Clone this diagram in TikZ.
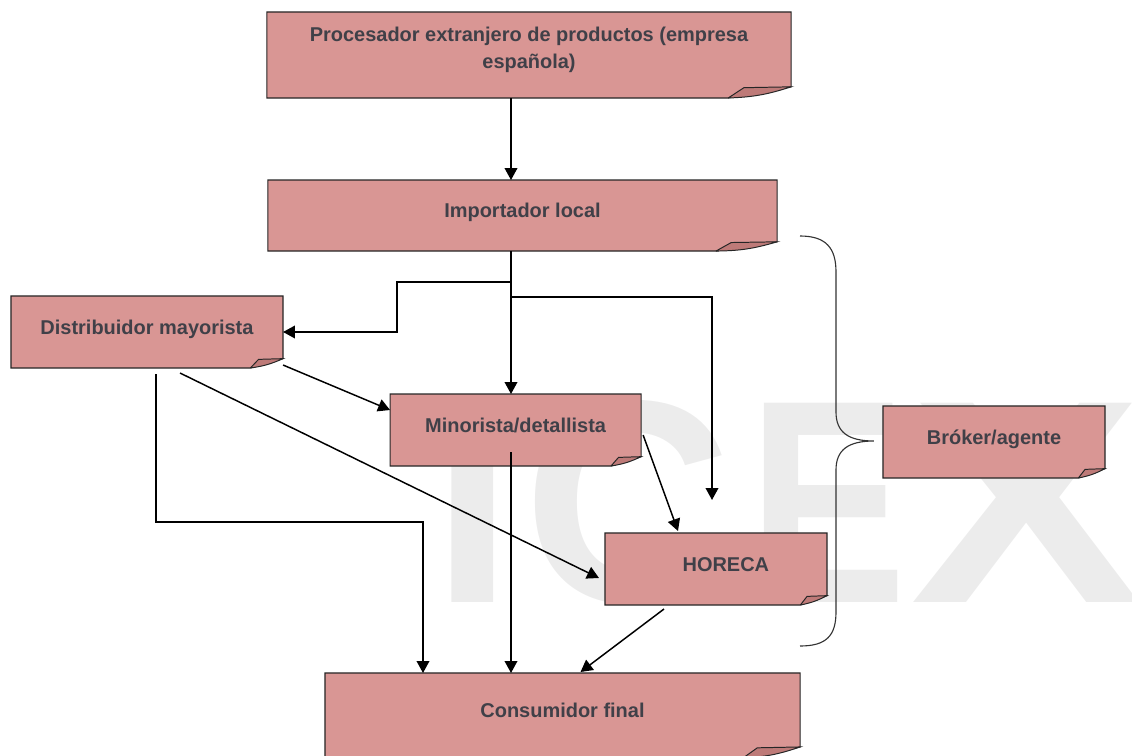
\documentclass[tikz,border=0pt]{standalone}
\usepackage{fontspec}
\setmainfont{Liberation Sans}
\usetikzlibrary{arrows.meta,positioning,calc,backgrounds}
\definecolor{boxpink}{RGB}{217,150,148}
\definecolor{foldpink}{RGB}{190,122,120}
\definecolor{labelgray}{RGB}{64,64,72}
\definecolor{markgray}{RGB}{236,236,236}
\tikzset{
  box/.style      ={inner sep=0pt,outer sep=0pt,align=center,text=labelgray,
                    font=\fontsize{14.2}{19.2}\selectfont\bfseries,text height=11pt,text depth=8pt},
  boxshape/.style ={fill=boxpink,draw=black!85,line width=0.8pt},
  foldshape/.style={fill=foldpink,draw=black!85,line width=0.7pt},
  flow/.style     ={-{Triangle[length=8.5pt,width=9pt]},line width=1.05pt},
  curly/.style    ={draw=black!80,line width=0.8pt},
  wmark/.style    ={text=markgray,font=\fontsize{206}{206}\selectfont\bfseries,inner sep=0pt},
}
% box with the folded corner at the bottom right
\newcommand{\foldbox}[1]{%
  \path[boxshape] let \p1=(#1.south west), \p2=(#1.north east) in
    (\x1,\y1) -- (\x1,\y2) -- (\x2,\y2) -- (\x2,{\y1+0.13*(\y2-\y1)})
    -- ({\x2-0.12*(\x2-\x1)},\y1) -- cycle;
  \path[foldshape] let \p1=(#1.south west), \p2=(#1.north east) in
    ({\x2-0.12*(\x2-\x1)},\y1) -- ({\x2-0.09*(\x2-\x1)},{\y1+0.12*(\y2-\y1)})
    -- (\x2,{\y1+0.13*(\y2-\y1)}) to[bend left=8] ({\x2-0.12*(\x2-\x1)},\y1);}

\begin{document}
\begin{tikzpicture}[x=0.025cm,y=-0.025cm]
  \useasboundingbox (0,0) rectangle (1132,756);
  \node[box,minimum width=13.1cm,minimum height=2.15cm,text height={},text depth={}] (proc) at (529,55)
       {Procesador extranjero de productos (empresa\\española)\rule[-11pt]{0pt}{0pt}};
  \node[box,minimum width=12.725cm,minimum height=1.775cm,below=2.05cm of proc,xshift=-1.625mm] (imp) {Importador local};
  \node[box,minimum width=6.8cm,minimum height=1.8cm] (dist) at (147,332) {Distribuidor mayorista};
  \node[box,minimum width=6.275cm,minimum height=1.8cm,below right=6.5mm and 26.75mm of dist] (mino) {Minorista/detallista};
  \node[box,minimum width=5.55cm,minimum height=1.8cm] (hor) at (716,569) {\hspace*{14pt}HORECA};
  \node[box,minimum width=5.55cm,minimum height=1.8cm] (brok) at (994,442) {Bróker/agente};
  \node[box,minimum width=11.875cm,minimum height=2.125cm] (cons) at (562.5,715.5) {Consumidor final};

  \coordinate (trunk) at (511,0);
  \draw[flow] (proc.south -| trunk) -- (imp.north -| trunk);
  \coordinate (kinkA) at (397,282);
  \draw[flow] (imp.south -| trunk) |- (kinkA) |- (dist.east);
  \draw[flow] (imp.south -| trunk) -- (mino.north -| trunk);
  \coordinate (hortip) at ($(hor.north)+(-4,-33)$);
  \draw[flow] (imp.south -| trunk) -- ++(0,46) -| (hortip);
  \draw[flow] ($(dist.south east)+(0,-3)$) -- ($(mino.north west)+(0,16)$);
  \draw[flow] ($(dist.south)+(33,5)$) -- ($(hor.west)+(-6,9)$);
  \coordinate (kinkC) at (423,522);
  \draw[flow] ($(dist.south)+(9,6)$) |- (kinkC) -- (cons.north -| kinkC);
  \draw[flow] ($(mino.south -| trunk)+(0,-14)$) -- (cons.north -| trunk);
  \draw[flow] ($(mino.east)+(2,5)$) -- ($(hor.north)+(-38,-2)$);
  \draw[flow] ($(hor.south)+(-52,4)$) -- ($(cons.north)+(18,-1)$);

  % brace grouping the channels
  \coordinate (bracetip) at ($(brok.west)+(-9,-1)$);
  \draw[curly] (800,236) .. controls (826,236) and (836,248) .. (836,272) -- (836,412)
     .. controls (836,432) and (848,441) .. (bracetip)
     .. controls (848,441) and (836,450) .. (836,470) -- (836,612)
     .. controls (836,636) and (826,646) .. (800,646);

  \begin{scope}[on background layer]
    \node[wmark,anchor=base west] (logo) at (432,602)
         {I\kern7.8pt C\kern10.9pt\scalebox{0.82}[1]{E}\kern2.8pt\scalebox{1.2}[1]{X}};
    \foreach \b in {proc,imp,dist,mino,hor,brok,cons} {\foldbox{\b}}
  \end{scope}
\end{tikzpicture}
\end{document}
